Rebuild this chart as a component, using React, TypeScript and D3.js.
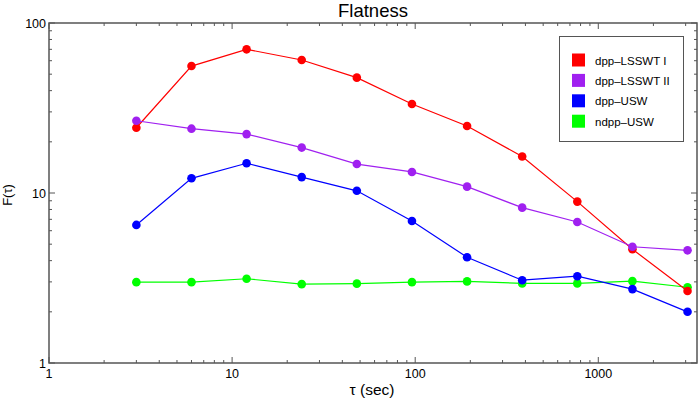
import { useEffect, useRef } from "react";
import * as d3 from "d3";

const taus = [3, 6, 12, 24, 48, 96, 192, 384, 768, 1536, 3072];
const lsswt1 = [24.2, 55.8, 70, 60.6, 47.7, 33.4, 24.8, 16.4, 8.9, 4.67, 2.65];
const lsswt2 = [26.6, 23.9, 22.2, 18.5, 14.8, 13.3, 10.9, 8.2, 6.75, 4.83, 4.6];
const dppUsw = [6.49, 12.2, 14.96, 12.4, 10.3, 6.85, 4.19, 3.07, 3.24, 2.72, 2.0];
const ndppUsw = [2.99, 2.99, 3.13, 2.91, 2.93, 2.99, 3.02, 2.94, 2.94, 3.03, 2.79];

const seriesNames = ["dpp\u2013LSSWT I", "dpp\u2013LSSWT II", "dpp\u2013USW", "ndpp\u2013USW"];
const seriesColors = ["#ff0000", "#a020f0", "#0000ff", "#00ff00"];
const seriesValues = [lsswt1, lsswt2, dppUsw, ndppUsw];
// draw order: green under, blue on top
const drawOrder = [3, 0, 1, 2];

const xTicks = [1, 10, 100, 1000];
const yTicks = [1, 10, 100];

const W = 699;
const H = 402;
const margin = { left: 49, right: 2, top: 23, bottom: 39 };
const FONT = "'Liberation Sans', Arial, Helvetica, sans-serif";
const AXIS = "#555";

export default function App() {
  const svgRef = useRef<SVGSVGElement>(null);

  useEffect(() => {
    if (!svgRef.current) return;
    const svg = d3.select(svgRef.current);
    svg.selectAll("*").remove();

    const x = d3.scaleLog().domain([1, 3460]).range([margin.left, W - margin.right]);
    const y = d3.scaleLog().domain([1, 100]).range([H - margin.bottom, margin.top]);
    const [x0, x1] = x.range();
    const [y0, y1] = y.range();

    // minor ticks (2..9 in each decade)
    const minorX: number[] = [];
    for (let d = 1; d <= 1000; d *= 10)
      for (let k = 2; k <= 9; k++) if (d * k < 3460) minorX.push(d * k);
    const minorY: number[] = [];
    for (let d = 1; d < 100; d *= 10) for (let k = 2; k <= 9; k++) minorY.push(d * k);

    const ticks = svg.append("g").attr("stroke", AXIS).attr("stroke-width", 1);
    const tickX = (v: number, len: number) => {
      ticks.append("line").attr("x1", x(v)).attr("x2", x(v)).attr("y1", y0).attr("y2", y0 - len);
      ticks.append("line").attr("x1", x(v)).attr("x2", x(v)).attr("y1", y1).attr("y2", y1 + len);
    };
    const tickY = (v: number, len: number) => {
      ticks.append("line").attr("y1", y(v)).attr("y2", y(v)).attr("x1", x0).attr("x2", x0 + len);
      ticks.append("line").attr("y1", y(v)).attr("y2", y(v)).attr("x1", x1).attr("x2", x1 - len);
    };
    minorX.forEach((v) => tickX(v, 3));
    xTicks.forEach((v) => tickX(v, 6));
    minorY.forEach((v) => tickY(v, 3));
    yTicks.forEach((v) => tickY(v, 6));

    // frame
    svg
      .append("rect")
      .attr("x", x0)
      .attr("y", y1)
      .attr("width", x1 - x0)
      .attr("height", y0 - y1)
      .attr("fill", "none")
      .attr("stroke", AXIS)
      .attr("stroke-width", 1.5);

    // tick labels
    svg
      .append("g")
      .selectAll("text")
      .data(xTicks)
      .join("text")
      .attr("x", (d) => x(d))
      .attr("y", y0 + 15)
      .attr("text-anchor", "middle")
      .attr("font-family", FONT)
      .attr("font-size", 12.5)
      .text((d) => String(d));

    svg
      .append("g")
      .selectAll("text")
      .data(yTicks)
      .join("text")
      .attr("x", x0 - 3)
      .attr("y", (d) => y(d) + 4.5)
      .attr("text-anchor", "end")
      .attr("font-family", FONT)
      .attr("font-size", 12.5)
      .text((d) => String(d));

    // series
    const line = d3
      .line<number>()
      .x((_, i) => x(taus[i]))
      .y((d) => y(d));

    drawOrder.forEach((si) => {
      const g = svg.append("g");
      g.append("path")
        .attr("d", line(seriesValues[si]) || "")
        .attr("fill", "none")
        .attr("stroke", seriesColors[si])
        .attr("stroke-width", 1.2);
      g.selectAll("circle")
        .data(seriesValues[si])
        .join("circle")
        .attr("cx", (_, i) => x(taus[i]))
        .attr("cy", (d) => y(d))
        .attr("r", 4.3)
        .attr("fill", seriesColors[si]);
    });

    // legend
    const lg = svg.append("g");
    lg.append("rect")
      .attr("x", 559.5)
      .attr("y", 36.5)
      .attr("width", 124)
      .attr("height", 105)
      .attr("fill", "#fff")
      .attr("stroke", AXIS)
      .attr("stroke-width", 1);
    seriesNames.forEach((name, i) => {
      const cy = 60 + i * 20.4;
      lg.append("rect")
        .attr("x", 572)
        .attr("y", cy - 6.5)
        .attr("width", 13)
        .attr("height", 13)
        .attr("fill", seriesColors[i]);
      lg.append("text")
        .attr("x", 595)
        .attr("y", cy + 4.5)
        .attr("font-family", FONT)
        .attr("font-size", 11.5)
        .text(name);
    });

    // titles
    svg
      .append("text")
      .attr("x", 373)
      .attr("y", 17)
      .attr("text-anchor", "middle")
      .attr("font-family", FONT)
      .attr("font-size", 18.5)
      .text("Flatness");

    svg
      .append("text")
      .attr("x", 372)
      .attr("y", 395)
      .attr("text-anchor", "middle")
      .attr("font-family", FONT)
      .attr("font-size", 15.5)
      .text("\u03c4 (sec)");

    svg
      .append("text")
      .attr("transform", `translate(12, 195) rotate(-90)`)
      .attr("text-anchor", "middle")
      .attr("font-family", FONT)
      .attr("font-size", 13)
      .text("F(\u03c4)");
  }, []);

  return (
    <svg
      ref={svgRef}
      width={W}
      height={H}
      style={{ position: "absolute", left: 0, top: 0, background: "#fff" }}
    />
  );
}
